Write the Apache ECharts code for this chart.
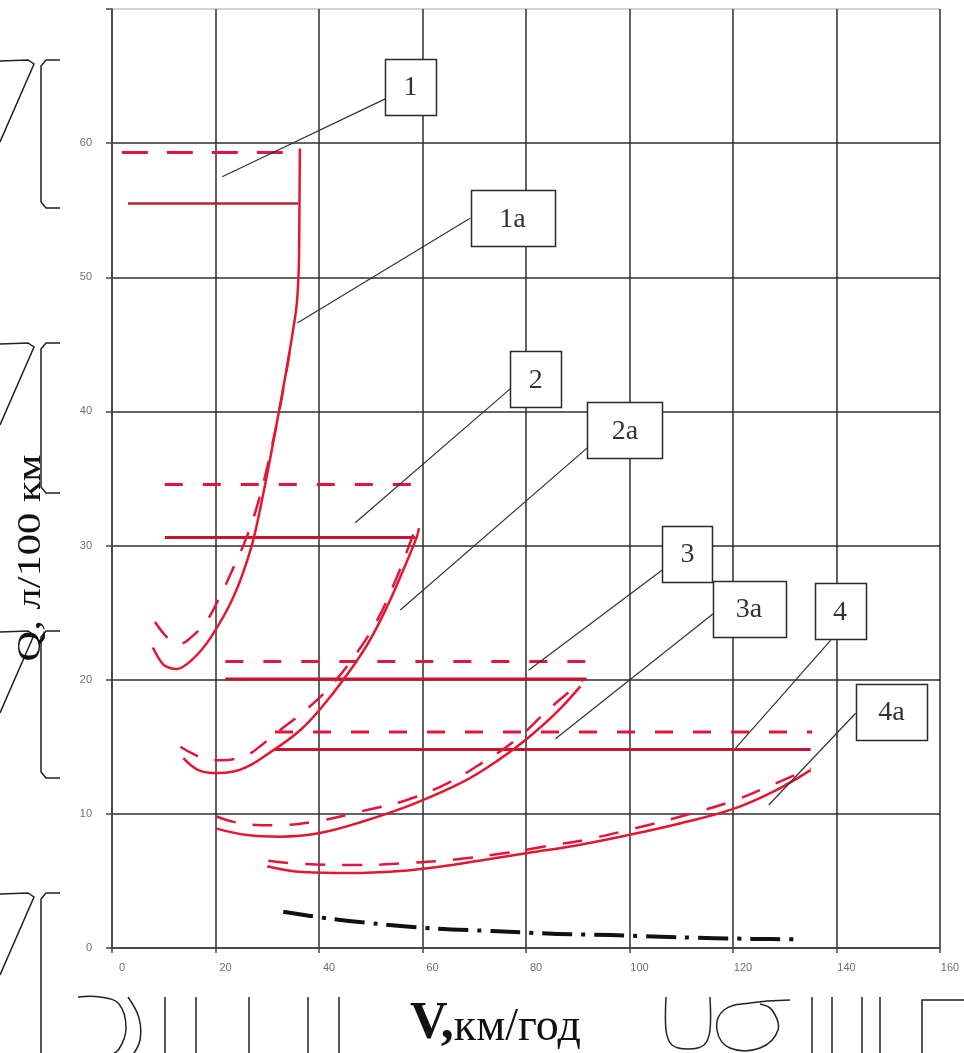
<!DOCTYPE html>
<html><head><meta charset="utf-8">
<script src="https://cdn.jsdelivr.net/npm/echarts/dist/echarts.min.js"></script>
<style>html,body{margin:0;padding:0;background:#fff}#c{width:964px;height:1053px}</style>
</head><body><div id="c"></div>
<script>
// ---- axis ranges ----
const speedRange = [0, 160, 20];   // min, max, step (км/год)
const consRange = [0, 70, 10];     // min, max, step (л/100 км)

// ---- fuel consumption curves [V, Q] ----
const curve1Dash  = [[8.3,24.3],[11.2,22.95],[13.2,22.7],[15.1,23.1],[18.3,24.4],[20.6,26.0],[23.4,28.3],[26.1,30.7],[28.3,33.3],[30.2,36.2],[32.6,40.6],[34.8,45.5]];
const curve1Solid = [[7.9,22.4],[10.0,21.1],[12.5,20.8],[15.5,21.5],[19.0,23.1],[23.5,26.2],[27.0,30.0],[29.3,34.0],[31.3,38.0],[33.3,42.2],[34.8,45.6],[35.7,48.0],[36.1,50.8],[36.2,54.0],[36.3,59.6]];
const curve2Dash  = [[13.2,15.0],[15.5,14.5],[17.7,14.15],[21.2,14.0],[26.1,14.4],[29.3,15.25],[32.5,16.25],[37.0,17.6],[42.2,19.5],[47.3,22.0],[51.2,24.4],[55.1,27.7],[58.3,30.9],[58.9,31.4]];
const curve2Solid = [[13.8,14.15],[16.5,13.3],[19.6,13.05],[24.8,13.3],[31.2,14.75],[36.4,16.25],[40.2,17.8],[44.7,20.0],[49.3,22.6],[53.1,25.4],[56.3,28.2],[58.9,30.65],[59.3,31.3]];
const curve3Dash  = [[20.2,9.8],[23.5,9.4],[27.0,9.2],[31.2,9.15],[39.6,9.45],[48.3,10.2],[56.7,11.0],[64.4,12.2],[71.5,13.8],[78.3,15.6],[84.7,17.9],[89.9,19.6],[91.0,20.0]];
const curve3Solid = [[20.2,8.9],[26.1,8.42],[32.5,8.3],[39.9,8.55],[48.6,9.45],[58.3,10.75],[67.9,12.4],[75.0,14.1],[80.2,15.6],[86.0,17.6],[90.5,19.5]];
const curve4Dash  = [[30.2,6.5],[36.4,6.27],[47.4,6.18],[57.1,6.33],[65.4,6.56],[76.0,7.08],[84.1,7.6],[91.9,8.1],[100.8,8.9],[109.9,9.8],[119.5,10.9],[126.0,11.9],[135.0,13.4]];
const curve4Solid = [[30.0,6.1],[36.9,5.66],[46.0,5.59],[55.7,5.74],[62.9,6.04],[71.8,6.56],[80.3,7.08],[90.5,7.7],[100.2,8.45],[109.9,9.3],[119.9,10.35],[128.0,11.7],[135.0,13.26]];
const idleLine    = [[33.1,2.7],[41.8,2.2],[51.3,1.8],[62.5,1.45],[74.5,1.25],[86.1,1.05],[96.3,0.97],[109.3,0.8],[123.8,0.68],[132.1,0.65]];

// ---- horizontal levels [V, Q] ----
const level1Dash  = [[1.9,59.3],[34.4,59.3]];
const level1Solid = [[3.1,55.5],[36.0,55.5]];
const level2Dash  = [[10.2,34.55],[58.5,34.55]];
const level2Solid = [[10.2,30.6],[58.6,30.6]];
const level3Dash  = [[21.9,21.35],[92.1,21.35]];
const level3Solid = [[21.9,20.05],[91.7,20.05]];
const level4Dash  = [[31.5,16.1],[135.3,16.1]];
const level4Solid = [[31.5,14.8],[135.0,14.8]];

// ---- callout labels (data coordinates) ----
const calloutText   = ['1','1a','2','2a','3','3a','4','4a'];
const calloutCenter = [[57.7,64.2],[77.4,54.4],[81.9,42.4],[99.1,38.6],[111.2,29.4],[123.1,25.3],[140.7,25.1],[150.6,17.6]];
const calloutFrom   = [[52.8,63.3],[69.2,54.4],[77.0,41.7],[91.9,37.3],[106.4,28.2],[116.1,24.9],[138.9,22.95],[143.7,17.5]];
const calloutTo     = [[21.3,57.5],[35.8,46.6],[47.0,31.7],[55.7,25.2],[80.5,20.7],[85.7,15.6],[120.5,14.9],[126.9,10.66]];

// ---- styles ----
const RED = '#e3182f', RED_D = '#c8132f', RED_DASH = '#e2163c';
const boxW = [51,84,51,75,50,73,51,71], boxH = 56;

function ser(data, color, width, type, smooth, z) {
  return {type:'line', data, symbol:'none', showSymbol:false, smooth: smooth,
    lineStyle:{color, width, type, cap:'butt', join:'round'}, silent:true, z: z || 3, animation:false};
}
const dashC = [20, 17];
const dashH = [18, 20];
const series = [
  ser(level1Dash, RED_DASH, 3, [26,19], false),
  ser(level1Solid, '#b3242c', 2.5, 'solid', false),
  ser(level2Dash, RED_DASH, 3, dashH, false),
  ser(level2Solid, RED_D, 3, 'solid', false),
  ser(level3Dash, RED_DASH, 3, dashH, false),
  ser(level3Solid, RED_D, 3, 'solid', false),
  ser(level4Dash, RED_DASH, 3, dashH, false),
  ser(level4Solid, RED_D, 3, 'solid', false),
  ser(curve1Dash, RED_DASH, 2.5, dashC, 0.4),
  ser(curve1Solid, RED, 2.5, 'solid', 0.3),
  ser(curve2Dash, RED_DASH, 2.5, dashC, 0.4),
  ser(curve2Solid, RED, 2.5, 'solid', 0.4),
  ser(curve3Dash, RED_DASH, 2.5, dashC, 0.4),
  ser(curve3Solid, RED, 2.5, 'solid', 0.4),
  ser(curve4Dash, RED_DASH, 2.5, dashC, 0.4),
  ser(curve4Solid, RED, 2.5, 'solid', 0.4),
  ser(idleLine, '#111', 4, [30,9,4,9], 0.3)
];
calloutFrom.forEach((p, i) => {
  series.push(ser([p, calloutTo[i]], '#333', 1.2, 'solid', false, 4));
});

const chart = echarts.init(document.getElementById('c'), null, {renderer:'canvas'});
const gridColors = ['#2e2e2e','#2e2e2e','#2e2e2e','#2e2e2e','#2e2e2e','#2e2e2e','#2e2e2e','#c4c4c4'];
chart.setOption({
  backgroundColor:'#fff',
  animation:false,
  grid:{left:112, right:24, top:9, bottom:105},
  xAxis:{type:'value', min:speedRange[0], max:speedRange[1], interval:speedRange[2],
    axisLine:{show:true, lineStyle:{color:'#444', width:1.5}},
    axisTick:{show:true, length:5, lineStyle:{color:'#444', width:1.5}},
    axisLabel:{color:'#707070', fontSize:11, fontFamily:'Liberation Sans', margin:14, padding:[0,0,0,20]},
    splitLine:{show:true, lineStyle:{color:'#2e2e2e', width:1.5}}},
  yAxis:{type:'value', min:consRange[0], max:consRange[1], interval:consRange[2],
    axisLine:{show:true, lineStyle:{color:'#444', width:1.5}},
    axisTick:{show:true, length:6, lineStyle:{color:'#444', width:1.5}},
    axisLabel:{color:'#707070', fontSize:11, fontFamily:'Liberation Sans', margin:20,
      formatter: v => v >= consRange[1] ? '' : String(v)},
    splitLine:{show:true, lineStyle:{color:gridColors, width:1.5}}},
  series
});

// graphics: callout boxes, axis titles, scan artefacts
const g = [];
calloutCenter.forEach((c, i) => {
  const p = chart.convertToPixel({gridIndex:0}, c);
  g.push({type:'rect', z:10, shape:{x:Math.round(p[0]-boxW[i]/2)+0.5, y:Math.round(p[1]-boxH/2)+0.5, width:boxW[i], height:boxH},
    style:{fill:'#fff', stroke:'#2a2a2a', lineWidth:1.5}});
  g.push({type:'text', z:11, x:p[0], y:p[1]+1, style:{text:calloutText[i], font:'28px "Liberation Serif"', fill:'#333',
    align:'center', verticalAlign:'middle', textAlign:'center', textVerticalAlign:'middle'}});
});
g.push({type:'text', z:11, x:410, y:1025, style:{text:'{b|V,}{n|км/год}', fill:'#111', verticalAlign:'middle', textVerticalAlign:'middle',
  rich:{b:{font:'bold 52px "Liberation Serif"', fill:'#111', verticalAlign:'bottom'}, n:{font:'46px "Liberation Serif"', fill:'#111', verticalAlign:'bottom'}}}});
g.push({type:'text', z:11, x:31, y:558, rotation:Math.PI/2, scaleX:1.25, style:{text:'Q, л/100 км', font:'34px "Liberation Serif"', fill:'#111',
  align:'center', verticalAlign:'middle', textAlign:'center', textVerticalAlign:'middle'}});
// scan artefacts: left-margin brackets and slashes
const art = {fill:null, stroke:'#222', lineWidth:1.5};
function pl(points, smooth) { g.push({type:'polyline', z:1, shape:{points, smooth: smooth || 0}, style:art}); }
[[60,208],[343,493],[631,778],[893,1070]].forEach(([y0,y1]) => {
  pl([[0,y0+1],[28,y0],[34,y0+4],[0,y0+82]]);
  pl([[60,y0],[46,y0],[41,y0+6],[41,y1-6],[46,y1],[60,y1]]);
});
// scan artefacts: bottom outline glyphs
pl([[78,997],[100,997],[119,1004],[126,1028],[119,1049],[108,1056]], 0.4);
pl([[128,997],[139,1018],[140,1040],[132,1056]], 0.4);
[165,196,249,308,339,812,832,862,880].forEach(x => pl([[x,997],[x,1056]]));
pl([[666,997],[666,1030],[672,1045],[688,1049],[704,1045],[710,1030],[710,997]], 0.3);
pl([[790,1000],[750,1003],[724,1010],[717,1030],[730,1048],[760,1048],[778,1030],[772,1010],[760,1004]], 0.4);
pl([[922,1056],[922,1000],[964,1000]]);
chart.setOption({graphic:g});
</script></body></html>
